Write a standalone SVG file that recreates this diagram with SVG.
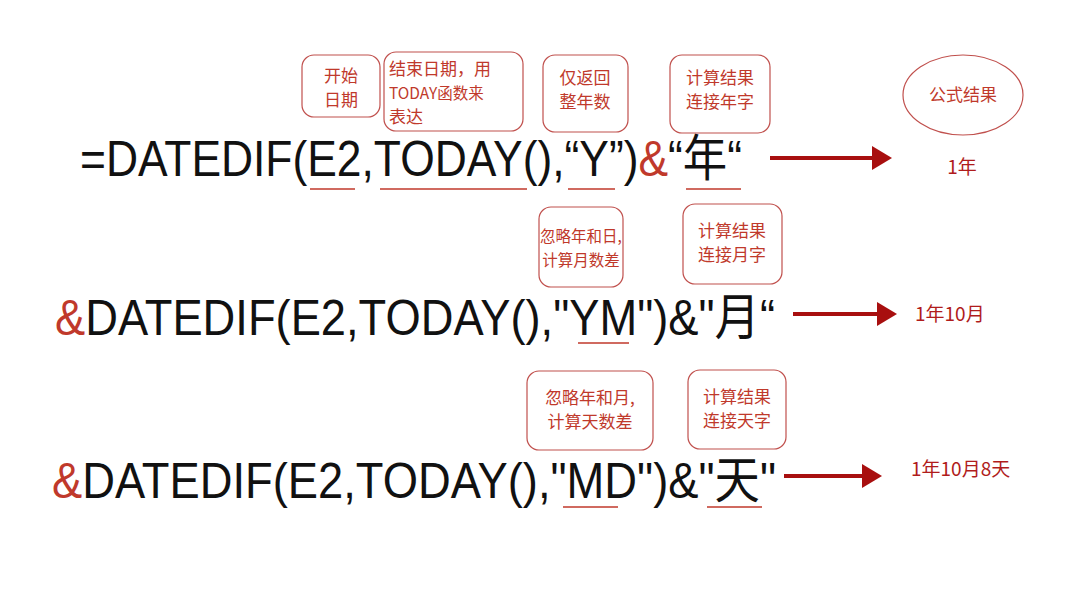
<svg xmlns="http://www.w3.org/2000/svg" width="1080" height="608" viewBox="0 0 1080 608">
<style>
.f{font-family:"Liberation Sans","Noto Sans CJK SC",sans-serif;font-size:50px;fill:#111}
.r{fill:#c0392b}
.b{fill:#fff;stroke:#c0504d;stroke-width:1.2}
.t{font-family:"Noto Sans CJK SC",sans-serif;font-size:17px;fill:#c0392b}
.res{font-family:"Noto Sans CJK SC",sans-serif;font-size:19px;fill:#b01c1c}
.u{stroke:#c0392b;stroke-width:1.5}
.a{stroke:#a80f0f;stroke-width:4;fill:none}
</style>
<defs><marker id="ah" markerWidth="6" markerHeight="6" refX="4" refY="3" orient="auto" markerUnits="strokeWidth"><path d="M0,0 L5,3 L0,6z" fill="#a80f0f"/></marker></defs>
<rect width="1080" height="608" fill="#fff"/>
<g id="formula1"><text class="f" x="80" y="176" textLength="662" lengthAdjust="spacingAndGlyphs">=DATEDIF(E2,TODAY(),“Y”)<tspan class="r">&amp;</tspan>“年“</text></g>
<g id="formula2"><text class="f" x="55" y="335" textLength="720" lengthAdjust="spacingAndGlyphs"><tspan class="r">&amp;</tspan>DATEDIF(E2,TODAY(),"YM")&amp;"月“</text></g>
<g id="formula3"><text class="f" x="52" y="498" textLength="724" lengthAdjust="spacingAndGlyphs"><tspan class="r">&amp;</tspan>DATEDIF(E2,TODAY(),"MD")&amp;"天"</text></g>
<g id="underlines">
<line class="u" x1="310" y1="189" x2="355" y2="189"/><line class="u" x1="380" y1="189" x2="527" y2="189"/>
<line class="u" x1="568" y1="189" x2="615" y2="189"/><line class="u" x1="686" y1="189" x2="741" y2="189"/>
<line class="u" x1="578" y1="343" x2="629" y2="343"/>
<line class="u" x1="563" y1="507" x2="618" y2="507"/><line class="u" x1="707" y1="507" x2="762" y2="507"/>
</g>
<g id="n1"><rect class="b" x="302" y="55" width="78" height="62" rx="12"/><text class="t" x="341" y="82" text-anchor="middle">开始</text><text class="t" x="341" y="106" text-anchor="middle">日期</text></g>
<g id="n2"><rect class="b" x="384" y="52" width="139" height="79" rx="12"/><text class="t" x="389" y="75">结束日期，用</text><text class="t" x="389" y="99" style="font-size:15.5px">TODAY函数来</text><text class="t" x="389" y="123">表达</text></g>
<g id="n3"><rect class="b" x="543" y="55" width="85" height="77" rx="12"/><text class="t" x="585" y="84" text-anchor="middle">仅返回</text><text class="t" x="585" y="108" text-anchor="middle">整年数</text></g>
<g id="n4"><rect class="b" x="670" y="55" width="100" height="78" rx="12"/><text class="t" x="720" y="84" text-anchor="middle">计算结果</text><text class="t" x="720" y="108" text-anchor="middle">连接年字</text></g>
<g id="n5"><ellipse class="b" cx="963" cy="95" rx="60" ry="40"/><text class="t" x="963" y="101" text-anchor="middle">公式结果</text></g>
<g id="n6"><rect class="b" x="539" y="207" width="84" height="80" rx="12"/><text class="t" x="581" y="242" text-anchor="middle" style="font-size:15.5px">忽略年和日,</text><text class="t" x="581" y="266" text-anchor="middle" style="font-size:15.5px">计算月数差</text></g>
<g id="n7"><rect class="b" x="683" y="204" width="99" height="80" rx="12"/><text class="t" x="732" y="237" text-anchor="middle">计算结果</text><text class="t" x="732" y="261" text-anchor="middle">连接月字</text></g>
<g id="n8"><rect class="b" x="527" y="371" width="126" height="79" rx="12"/><text class="t" x="590" y="404" text-anchor="middle">忽略年和月,</text><text class="t" x="590" y="428" text-anchor="middle">计算天数差</text></g>
<g id="n9"><rect class="b" x="688" y="370" width="98" height="79" rx="12"/><text class="t" x="737" y="403" text-anchor="middle">计算结果</text><text class="t" x="737" y="427" text-anchor="middle">连接天字</text></g>
<g id="r1"><text class="res" x="962" y="174" text-anchor="middle">1年</text></g>
<g id="r2"><text class="res" x="915" y="321">1年10月</text></g>
<g id="r3"><text class="res" x="911" y="476">1年10月8天</text></g>
<g id="connectors">
<line class="a" x1="770" y1="158" x2="888" y2="158" marker-end="url(#ah)"/>
<line class="a" x1="793" y1="314" x2="893" y2="314" marker-end="url(#ah)"/>
<line class="a" x1="784" y1="476" x2="878" y2="476" marker-end="url(#ah)"/>
</g>
</svg>
